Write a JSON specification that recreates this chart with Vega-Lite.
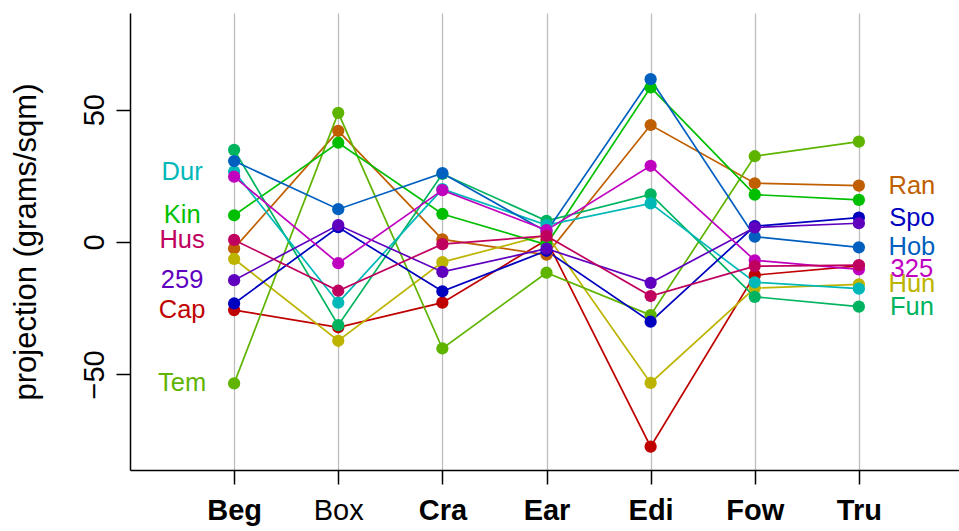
{
  "$schema": "https://vega.github.io/schema/vega-lite/v6.json",
  "autosize": {"type": "none"},
  "padding": {"left": 130, "top": 13, "right": 0, "bottom": 61},
  "width": 833,
  "height": 457,
  "background": "white",
  "config": {
    "view": {"stroke": null},
    "font": "Liberation Sans",
    "axis": {"domainColor": "black", "tickColor": "black", "labelColor": "black", "titleColor": "black", "domainWidth": 1.5, "tickWidth": 1.5, "tickSize": 14}
  },
  "data": {
    "values": [
      {"series": "Cap", "var": "Beg", "i": 1, "value": -25.7},
      {"series": "Cap", "var": "Box", "i": 2, "value": -32.2},
      {"series": "Cap", "var": "Cra", "i": 3, "value": -22.9},
      {"series": "Cap", "var": "Ear", "i": 4, "value": 0.8},
      {"series": "Cap", "var": "Edi", "i": 5, "value": -77.3},
      {"series": "Cap", "var": "Fow", "i": 6, "value": -12.5},
      {"series": "Cap", "var": "Tru", "i": 7, "value": -9.0},
      {"series": "Ran", "var": "Beg", "i": 1, "value": -2.4},
      {"series": "Ran", "var": "Box", "i": 2, "value": 42.0},
      {"series": "Ran", "var": "Cra", "i": 3, "value": 1.0},
      {"series": "Ran", "var": "Ear", "i": 4, "value": -4.8},
      {"series": "Ran", "var": "Edi", "i": 5, "value": 44.2},
      {"series": "Ran", "var": "Fow", "i": 6, "value": 22.2},
      {"series": "Ran", "var": "Tru", "i": 7, "value": 21.3},
      {"series": "Hun", "var": "Beg", "i": 1, "value": -6.4},
      {"series": "Hun", "var": "Box", "i": 2, "value": -37.3},
      {"series": "Hun", "var": "Cra", "i": 3, "value": -7.6},
      {"series": "Hun", "var": "Ear", "i": 4, "value": 2.8},
      {"series": "Hun", "var": "Edi", "i": 5, "value": -53.2},
      {"series": "Hun", "var": "Fow", "i": 6, "value": -17.4},
      {"series": "Hun", "var": "Tru", "i": 7, "value": -16.0},
      {"series": "Tem", "var": "Beg", "i": 1, "value": -53.4},
      {"series": "Tem", "var": "Box", "i": 2, "value": 48.8},
      {"series": "Tem", "var": "Cra", "i": 3, "value": -40.2},
      {"series": "Tem", "var": "Ear", "i": 4, "value": -11.6},
      {"series": "Tem", "var": "Edi", "i": 5, "value": -27.6},
      {"series": "Tem", "var": "Fow", "i": 6, "value": 32.4},
      {"series": "Tem", "var": "Tru", "i": 7, "value": 37.9},
      {"series": "Kin", "var": "Beg", "i": 1, "value": 10.1},
      {"series": "Kin", "var": "Box", "i": 2, "value": 37.5},
      {"series": "Kin", "var": "Cra", "i": 3, "value": 10.6},
      {"series": "Kin", "var": "Ear", "i": 4, "value": -1.0},
      {"series": "Kin", "var": "Edi", "i": 5, "value": 58.4},
      {"series": "Kin", "var": "Fow", "i": 6, "value": 17.9},
      {"series": "Kin", "var": "Tru", "i": 7, "value": 15.9},
      {"series": "Fun", "var": "Beg", "i": 1, "value": 34.8},
      {"series": "Fun", "var": "Box", "i": 2, "value": -31.4},
      {"series": "Fun", "var": "Cra", "i": 3, "value": 25.7},
      {"series": "Fun", "var": "Ear", "i": 4, "value": 8.0},
      {"series": "Fun", "var": "Edi", "i": 5, "value": 18.0},
      {"series": "Fun", "var": "Fow", "i": 6, "value": -20.7},
      {"series": "Fun", "var": "Tru", "i": 7, "value": -24.4},
      {"series": "Dur", "var": "Beg", "i": 1, "value": 26.6},
      {"series": "Dur", "var": "Box", "i": 2, "value": -22.9},
      {"series": "Dur", "var": "Cra", "i": 3, "value": 20.0},
      {"series": "Dur", "var": "Ear", "i": 4, "value": 6.4},
      {"series": "Dur", "var": "Edi", "i": 5, "value": 14.6},
      {"series": "Dur", "var": "Fow", "i": 6, "value": -15.2},
      {"series": "Dur", "var": "Tru", "i": 7, "value": -17.6},
      {"series": "Hob", "var": "Beg", "i": 1, "value": 30.6},
      {"series": "Hob", "var": "Box", "i": 2, "value": 12.4},
      {"series": "Hob", "var": "Cra", "i": 3, "value": 26.0},
      {"series": "Hob", "var": "Ear", "i": 4, "value": 3.9},
      {"series": "Hob", "var": "Edi", "i": 5, "value": 61.5},
      {"series": "Hob", "var": "Fow", "i": 6, "value": 2.0},
      {"series": "Hob", "var": "Tru", "i": 7, "value": -2.0},
      {"series": "Spo", "var": "Beg", "i": 1, "value": -23.2},
      {"series": "Spo", "var": "Box", "i": 2, "value": 5.6},
      {"series": "Spo", "var": "Cra", "i": 3, "value": -18.6},
      {"series": "Spo", "var": "Ear", "i": 4, "value": -3.3},
      {"series": "Spo", "var": "Edi", "i": 5, "value": -30.1},
      {"series": "Spo", "var": "Fow", "i": 6, "value": 6.0},
      {"series": "Spo", "var": "Tru", "i": 7, "value": 9.2},
      {"series": "259", "var": "Beg", "i": 1, "value": -14.4},
      {"series": "259", "var": "Box", "i": 2, "value": 6.4},
      {"series": "259", "var": "Cra", "i": 3, "value": -11.3},
      {"series": "259", "var": "Ear", "i": 4, "value": -2.5},
      {"series": "259", "var": "Edi", "i": 5, "value": -15.4},
      {"series": "259", "var": "Fow", "i": 6, "value": 5.5},
      {"series": "259", "var": "Tru", "i": 7, "value": 7.1},
      {"series": "325", "var": "Beg", "i": 1, "value": 24.7},
      {"series": "325", "var": "Box", "i": 2, "value": -8.0},
      {"series": "325", "var": "Cra", "i": 3, "value": 19.6},
      {"series": "325", "var": "Ear", "i": 4, "value": 4.5},
      {"series": "325", "var": "Edi", "i": 5, "value": 28.8},
      {"series": "325", "var": "Fow", "i": 6, "value": -6.9},
      {"series": "325", "var": "Tru", "i": 7, "value": -10.3},
      {"series": "Hus", "var": "Beg", "i": 1, "value": 0.8},
      {"series": "Hus", "var": "Box", "i": 2, "value": -18.4},
      {"series": "Hus", "var": "Cra", "i": 3, "value": -0.8},
      {"series": "Hus", "var": "Ear", "i": 4, "value": 2.3},
      {"series": "Hus", "var": "Edi", "i": 5, "value": -20.4},
      {"series": "Hus", "var": "Fow", "i": 6, "value": -9.1},
      {"series": "Hus", "var": "Tru", "i": 7, "value": -8.7}
    ]
  },
  "encoding": {
    "x": {
      "field": "i", "type": "quantitative",
      "scale": {"domain": [0, 8], "nice": false, "zero": false},
      "axis": {
        "values": [1, 2, 3, 4, 5, 6, 7],
        "labelExpr": "['','Beg','Box','Cra','Ear','Edi','Fow','Tru'][datum.value]",
        "labelFontSize": 29,
        "labelFontWeight": {"condition": {"test": "datum.value == 2", "value": "normal"}, "value": "bold"},
        "labelPadding": 12,
        "labelFlush": false,
        "labelOverlap": false,
        "grid": true, "gridColor": "#bebebe", "gridWidth": 1.3,
        "title": null
      }
    },
    "y": {
      "field": "value", "type": "quantitative",
      "scale": {"domain": [-86.1, 86.5], "nice": false, "zero": false},
      "axis": {
        "values": [-50, 0, 50],
        "labelExpr": "replace(datum.label, '-', '\u2212')",
        "labelFontSize": 29,
        "labelAngle": -90,
        "labelAlign": "center",
        "labelBaseline": "alphabetic",
        "labelPadding": 13,
        "grid": false,
        "title": "projection (grams/sqm)",
        "titleFontSize": 31,
        "titleFontWeight": "normal",
        "titlePadding": 38
      }
    },
    "color": {
      "field": "series", "type": "nominal",
      "scale": {
        "domain": ["Cap", "Ran", "Hun", "Tem", "Kin", "Fun", "Dur", "Hob", "Spo", "259", "325", "Hus"],
        "range": ["#BF0000", "#BF5F00", "#BCB400", "#5FB400", "#00BF00", "#00B45F", "#00B8B8", "#005FBF", "#0000BF", "#5F00BF", "#BF00BF", "#BF005F"]
      },
      "legend": null
    }
  },
  "layer": [
    {"mark": {"type": "line", "strokeWidth": 1.7}, "encoding": {"detail": {"field": "series"}}},
    {"mark": {"type": "point", "filled": true, "opacity": 1, "size": 150, "strokeWidth": 0}},
    {
      "transform": [{"filter": "datum.i == 1 && indexof(['Dur','Kin','Hus','259','Cap','Tem'], datum.series) >= 0"}],
      "mark": {"type": "text", "dx": -52, "align": "center", "baseline": "middle", "fontSize": 25.5},
      "encoding": {"text": {"field": "series"}}
    },
    {
      "transform": [{"filter": "datum.i == 7 && indexof(['Ran','Spo','Hob','325','Hun','Fun'], datum.series) >= 0"}],
      "mark": {"type": "text", "dx": 53, "align": "center", "baseline": "middle", "fontSize": 25.5},
      "encoding": {"text": {"field": "series"}}
    }
  ]
}
